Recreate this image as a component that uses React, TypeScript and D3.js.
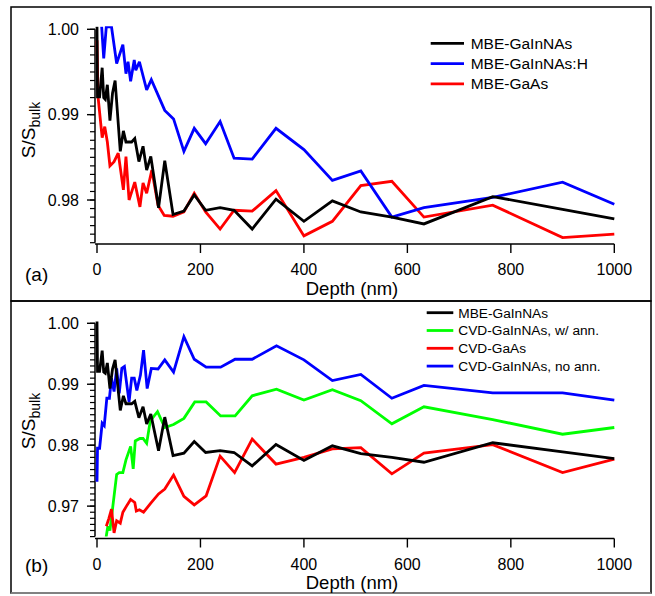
import React from "react";
import * as d3 from "d3";

// ---------- data ----------
const xTicks = [0, 200, 400, 600, 800, 1000];
const yTicksTop = [0.98, 0.99, 1.0];
const yTicksBottom = [0.97, 0.98, 0.99, 1.0];

const mbeGaInNAsDepth = [0, 1, 5, 10, 13, 16, 20, 25, 30, 35, 45, 51, 56, 67, 73, 81, 89, 96, 104, 119, 131, 147, 168, 188, 210, 238, 265, 300, 346, 400, 455, 510, 570, 632, 765, 900, 1000];
const mbeGaInNAsVal = [1.0003, 0.9921, 0.9921, 0.9955, 0.992, 0.9918, 0.9935, 0.9893, 0.9925, 0.994, 0.9857, 0.9881, 0.9868, 0.9868, 0.9872, 0.9845, 0.9863, 0.9835, 0.9851, 0.9791, 0.9846, 0.9783, 0.9787, 0.9806, 0.9788, 0.9791, 0.9788, 0.9766, 0.9801, 0.9775, 0.9799, 0.9786, 0.978, 0.9772, 0.9804, 0.9789, 0.9778];

const mbeGaInNAsHDepth = [9, 13, 18, 28, 38, 50, 56, 60, 65, 72, 75, 82, 96, 105, 131, 148, 168, 188, 210, 238, 265, 300, 346, 400, 455, 510, 570, 632, 765, 900, 1000];
const mbeGaInNAsHVal = [1.0003, 0.9966, 1.0003, 1.0003, 0.996, 0.9982, 0.9948, 0.9962, 0.9939, 0.9964, 0.9952, 0.9962, 0.9929, 0.9941, 0.9905, 0.9895, 0.9857, 0.9884, 0.9866, 0.9892, 0.9849, 0.9848, 0.9884, 0.9859, 0.9823, 0.9834, 0.978, 0.9791, 0.9803, 0.9821, 0.9795];

const mbeGaAsDepth = [0, 2, 10, 15, 20, 25, 33, 41, 51, 56, 62, 73, 83, 89, 96, 106, 118, 130, 147, 168, 188, 210, 238, 265, 300, 346, 400, 455, 510, 570, 632, 765, 900, 1000];
const mbeGaAsVal = [0.9987, 0.9921, 0.9873, 0.9886, 0.9868, 0.984, 0.9845, 0.9855, 0.9812, 0.9851, 0.98, 0.9821, 0.9792, 0.982, 0.9808, 0.9835, 0.9794, 0.9782, 0.9781, 0.9786, 0.9808, 0.9786, 0.9766, 0.9788, 0.9787, 0.9811, 0.9758, 0.9775, 0.9817, 0.9822, 0.978, 0.9794, 0.9756, 0.976];

const cvdAnnDepth = [17, 21, 25, 38, 43, 50, 56, 65, 70, 74, 83, 89, 96, 103, 117, 131, 148, 168, 189, 211, 239, 267, 300, 347, 400, 455, 510, 570, 632, 765, 900, 1000];
const cvdAnnVal = [0.9646, 0.9667, 0.966, 0.9752, 0.9755, 0.9755, 0.9776, 0.9798, 0.9761, 0.9807, 0.9811, 0.9811, 0.9803, 0.984, 0.9855, 0.9829, 0.9834, 0.9844, 0.9871, 0.9871, 0.9848, 0.9848, 0.9881, 0.9892, 0.9874, 0.9891, 0.9873, 0.9835, 0.9863, 0.9842, 0.9818, 0.9829];

const cvdGaAsDepth = [18, 23, 28, 33, 38, 45, 50, 57, 65, 73, 76, 82, 90, 104, 119, 131, 148, 168, 188, 211, 238, 266, 300, 346, 400, 455, 510, 570, 632, 765, 900, 1000];
const cvdGaAsVal = [0.9667, 0.968, 0.9695, 0.9656, 0.9676, 0.9672, 0.969, 0.97, 0.9711, 0.9706, 0.9692, 0.9694, 0.969, 0.9705, 0.972, 0.9728, 0.9751, 0.9716, 0.9702, 0.9717, 0.9782, 0.9755, 0.981, 0.9769, 0.978, 0.9794, 0.9796, 0.9753, 0.9787, 0.9801, 0.9755, 0.9777];

const cvdNoAnnDepth = [0, 1, 5, 10, 14, 19, 24, 28, 33, 38, 43, 48, 53, 62, 67, 72, 77, 84, 90, 97, 105, 118, 131, 148, 168, 188, 211, 239, 267, 300, 347, 400, 455, 510, 570, 632, 765, 900, 1000];
const cvdNoAnnVal = [0.974, 0.9795, 0.9795, 0.9836, 0.9832, 0.9877, 0.9877, 0.991, 0.9888, 0.9926, 0.9885, 0.9926, 0.9929, 0.9871, 0.991, 0.991, 0.989, 0.9915, 0.9956, 0.9893, 0.9926, 0.9925, 0.994, 0.992, 0.9978, 0.9941, 0.9928, 0.9928, 0.9941, 0.9941, 0.9963, 0.994, 0.9906, 0.9916, 0.9877, 0.9898, 0.9886, 0.9886, 0.9874];

const legendTop = ["MBE-GaInNAs", "MBE-GaInNAs:H", "MBE-GaAs"];
const legendBottom = ["MBE-GaInNAs", "CVD-GaInNAs, w/ ann.", "CVD-GaAs", "CVD-GaInNAs, no ann."];

const FONT = "'Liberation Sans', Arial, Helvetica, sans-serif";

type Series = { depth: number[]; val: number[]; color: string; name: string };

interface PanelProps {
  id: string;
  yDomain: [number, number];
  yRange: [number, number];
  xAxisY: number;
  yTicks: number[];
  series: Series[];
  legend: { x1: number; x2: number; tx: number; y0: number; dy: number; size: number; names: string[]; colors: string[] };
  titleY: number;
  yTitleCenter: number;
  label: string;
  labelY: number;
}

const xScale = d3.scaleLinear().domain([0, 1000]).range([97, 614.3]);

function Panel(p: PanelProps) {
  const y = d3.scaleLinear().domain(p.yDomain).range(p.yRange);
  const line = d3
    .line<[number, number]>()
    .x((d) => xScale(d[0]))
    .y((d) => y(d[1]));
  const minor = d3.range(Math.round(p.yDomain[0] * 1000), Math.round(p.yDomain[1] * 1000) + 1).map((v) => v / 1000);
  const axisX = 95;
  const fmt = d3.format(".2f");
  return (
    <g fontFamily={FONT}>
      <defs>
        <clipPath id={p.id}>
          <rect x={axisX} y={p.yRange[1] - 3} width={xScale(1000) - axisX + 2} height={p.yRange[0] - p.yRange[1] + 3} />
        </clipPath>
      </defs>
      {/* y axis */}
      <line x1={axisX} x2={axisX} y1={y(p.yDomain[0])} y2={y(p.yDomain[1])} stroke="#000" strokeWidth={1.5} />
      {minor.map((v) => (
        <line key={"m" + v} x1={axisX - 5} x2={axisX} y1={y(v)} y2={y(v)} stroke="#000" strokeWidth={1.2} />
      ))}
      {p.yTicks.map((v) => (
        <g key={"t" + v}>
          <line x1={axisX - 8} x2={axisX} y1={y(v)} y2={y(v)} stroke="#000" strokeWidth={1.4} />
          <text x={79} y={y(v)} dy="0.36em" textAnchor="end" fontSize={16}>
            {fmt(v)}
          </text>
        </g>
      ))}
      {/* x axis */}
      <line x1={axisX} x2={xScale(1000)} y1={p.xAxisY} y2={p.xAxisY} stroke="#000" strokeWidth={1.5} />
      {xTicks.map((v) => (
        <g key={"x" + v}>
          <line x1={xScale(v)} x2={xScale(v)} y1={p.xAxisY} y2={p.xAxisY + 9} stroke="#000" strokeWidth={1.4} />
          <text x={xScale(v)} y={p.xAxisY + 31} textAnchor="middle" fontSize={16}>
            {v}
          </text>
        </g>
      ))}
      <text x={352} y={p.titleY} textAnchor="middle" fontSize={18.5}>
        Depth (nm)
      </text>
      <text transform={`translate(35,${p.yTitleCenter}) rotate(-90)`} textAnchor="middle" fontSize={19}>
        S/S<tspan fontSize={14} dy="5">bulk</tspan>
      </text>
      <text x={25} y={p.labelY} fontSize={19}>
        {p.label}
      </text>
      {/* data */}
      <g clipPath={`url(#${p.id})`}>
        {p.series.map((s) => (
          <path
            key={s.name}
            d={line(s.depth.map((d, i) => [d, s.val[i]] as [number, number])) || ""}
            fill="none"
            stroke={s.color}
            strokeWidth={2.8}
            strokeLinejoin="miter"
            strokeMiterlimit={3}
          />
        ))}
      </g>
      {/* legend */}
      {p.legend.names.map((n, i) => (
        <g key={"l" + n}>
          <line
            x1={p.legend.x1}
            x2={p.legend.x2}
            y1={p.legend.y0 + i * p.legend.dy}
            y2={p.legend.y0 + i * p.legend.dy}
            stroke={p.legend.colors[i]}
            strokeWidth={2.8}
          />
          <text x={p.legend.tx} y={p.legend.y0 + i * p.legend.dy} dy="0.36em" fontSize={p.legend.size}>
            {n}
          </text>
        </g>
      ))}
    </g>
  );
}

export default function App() {
  const topSeries: Series[] = [
    { name: "gaas", depth: mbeGaAsDepth, val: mbeGaAsVal, color: "#ff0000" },
    { name: "h", depth: mbeGaInNAsHDepth, val: mbeGaInNAsHVal, color: "#0000ff" },
    { name: "mbe", depth: mbeGaInNAsDepth, val: mbeGaInNAsVal, color: "#000000" },
  ];
  const bottomSeries: Series[] = [
    { name: "noann", depth: cvdNoAnnDepth, val: cvdNoAnnVal, color: "#0000ff" },
    { name: "ann", depth: cvdAnnDepth, val: cvdAnnVal, color: "#00ff00" },
    { name: "cvdgaas", depth: cvdGaAsDepth, val: cvdGaAsVal, color: "#ff0000" },
    { name: "mbe", depth: mbeGaInNAsDepth, val: mbeGaInNAsVal, color: "#000000" },
  ];
  return (
    <svg width={655} height={596} style={{ position: "absolute", left: 0, top: 0 }}>
      <rect x={0} y={0} width={655} height={596} fill="#fff" />
      <rect x={11} y={7} width={640} height={294} fill="none" stroke="#000" strokeWidth={1.5} />
      <rect x={11} y={301} width={640} height={292} fill="none" stroke="#000" strokeWidth={1.5} />
      <line x1={11} x2={651} y1={593} y2={593} stroke="#999" strokeWidth={1.5} />
      <Panel
        id="clipTop"
        yDomain={[0.975, 1.0]}
        yRange={[242.7, 29.3]}
        xAxisY={244}
        yTicks={yTicksTop}
        series={topSeries}
        legend={{ x1: 430.7, x2: 464, tx: 470.7, y0: 43.3, dy: 20.3, size: 15.5, names: legendTop, colors: ["#000", "#0000ff", "#ff0000"] }}
        titleY={295}
        yTitleCenter={130}
        label="(a)"
        labelY={281}
      />
      <Panel
        id="clipBottom"
        yDomain={[0.965, 1.0]}
        yRange={[536.6, 323.3]}
        xAxisY={538.5}
        yTicks={yTicksBottom}
        series={bottomSeries}
        legend={{ x1: 426.7, x2: 453.3, tx: 458.3, y0: 312.7, dy: 17.8, size: 13.7, names: legendBottom, colors: ["#000", "#00ff00", "#ff0000", "#0000ff"] }}
        titleY={589}
        yTitleCenter={421}
        label="(b)"
        labelY={572}
      />
    </svg>
  );
}
